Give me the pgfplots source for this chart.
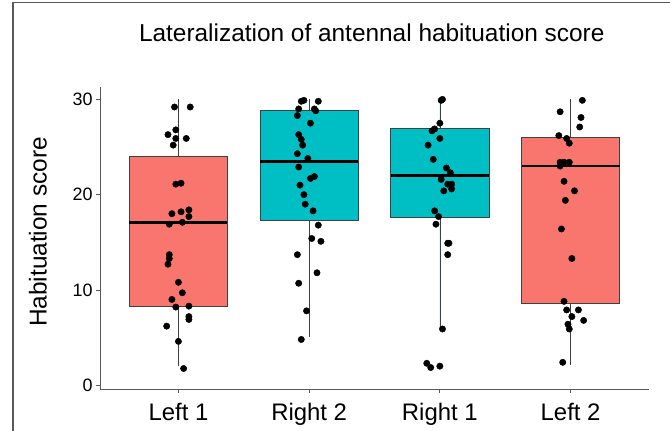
\documentclass[border=0pt]{standalone}
\usepackage{pgfplots}
\pgfplotsset{compat=1.18}
\usepgfplotslibrary{statistics}
\usepackage{fontspec}
\setmainfont{Liberation Sans}
\definecolor{salmon}{HTML}{F8766D}
\definecolor{teal}{HTML}{00BFC4}
\begin{document}
\begin{tikzpicture}
\useasboundingbox (0,0) rectangle (670bp,431bp);
\draw[black!65, line width=1.6bp] (13bp,-10bp) -- (13bp,428.6bp);
\draw[black!65, line width=1.6bp] (12.2bp,428.6bp) -- (690bp,428.6bp);
\begin{axis}[
  at={(100bp,42bp)}, anchor=south west,
  scale only axis, width=549bp, height=302bp,
  xmin=0.4, xmax=4.6, ymin=-0.4, ymax=31.3,
  axis x line*=bottom, axis y line*=left,
  axis line style={-, black!65, line width=0.8bp},
  xtick={1,2,3,4}, xticklabels={Left 1, Right 2, Right 1, Left 2},
  ytick={0,10,20,30},
  tick style={black!65, line width=0.8bp},
  tick align=outside, major tick length=4bp,
  /pgf/number format/assume math mode=true,
  x tick label style={font=\fontsize{24}{28}\selectfont, anchor=base, yshift=-28bp},
  y tick label style={font=\fontsize{18}{20}\selectfont},
  ylabel={Habituation score},
  ylabel style={font=\fontsize{24.5}{28}\selectfont, at={(axis description cs:-0.113,0.52)}, anchor=center},
  title={Lateralization of antennal habituation score},
  title style={font=\fontsize{24.5}{28}\selectfont, at={(axis description cs:0.495,1)}, anchor=base, yshift=40bp},
  boxplot/draw direction=y,
  clip=false,
]
% boxes
\addplot[fill=salmon, draw=black!75, line width=0.7bp,
  boxplot prepared={draw position=1, lower whisker=2.0, lower quartile=8.3, median=17.1, upper quartile=24.0, upper whisker=30.0, box extend=0.75, whisker extend=0, every median/.style={black, line width=2.6bp}}]
  coordinates {};
\addplot[fill=teal, draw=black!75, line width=0.7bp,
  boxplot prepared={draw position=2, lower whisker=5.1, lower quartile=17.3, median=23.5, upper quartile=28.8, upper whisker=30.0, box extend=0.75, whisker extend=0, every median/.style={black, line width=2.6bp}}]
  coordinates {};
\addplot[fill=teal, draw=black!75, line width=0.7bp,
  boxplot prepared={draw position=3, lower whisker=5.9, lower quartile=17.6, median=22.0, upper quartile=27.0, upper whisker=30.0, box extend=0.75, whisker extend=0, every median/.style={black, line width=2.6bp}}]
  coordinates {};
\addplot[fill=salmon, draw=black!75, line width=0.7bp,
  boxplot prepared={draw position=4, lower whisker=2.1, lower quartile=8.6, median=23.0, upper quartile=26.0, upper whisker=30.0, box extend=0.75, whisker extend=0, every median/.style={black, line width=2.6bp}}]
  coordinates {};
% points Left 1
\addplot[only marks, mark=*, mark size=3.2bp, black] coordinates {
(0.97,29.2) (1.09,29.2) (0.98,26.8) (0.92,26.3) (0.98,25.9) (1.06,25.9) (0.96,25.2)
(0.98,21.1) (1.02,21.2) (0.95,18.0) (1.02,18.2) (1.08,18.4) (1.08,17.7) (0.93,16.9)
(1.03,17.1) (0.93,13.7) (0.93,13.3) (0.92,12.7) (1.00,10.8) (1.03,9.7) (0.95,9.0)
(0.98,8.2) (1.08,8.3) (1.08,7.2) (1.08,6.9) (0.91,6.2) (1.00,4.6) (1.04,1.75)
};
% points Right 2
\addplot[only marks, mark=*, mark size=3.2bp, black] coordinates {
(1.94,29.8) (1.96,29.9) (2.07,29.8) (1.92,29.0) (2.04,29.0) (2.05,28.8) (1.91,28.3)
(2.01,27.5) (1.92,26.3) (1.94,25.8) (1.95,25.2) (1.91,24.3) (1.99,23.8) (1.92,22.9)
(2.01,21.7) (2.04,21.9) (1.93,21.0) (1.96,20.0) (1.97,19.0) (2.03,18.3) (2.07,16.8)
(2.02,15.4) (2.09,15.1) (1.91,13.7) (2.06,11.8) (1.92,10.7) (1.98,7.8) (1.94,4.8)
};
% points Right 1
\addplot[only marks, mark=*, mark size=3.2bp, black] coordinates {
(3.01,29.9) (3.02,30.0) (3.00,27.5) (2.96,26.9) (2.94,26.7) (3.00,25.9) (2.91,25.2)
(2.95,23.7) (3.05,22.8) (3.08,22.3) (3.01,21.6) (3.06,21.1) (3.09,21.1) (3.09,20.6)
(3.03,20.4) (2.96,18.3) (2.99,17.7) (2.97,16.9) (3.06,14.9) (3.07,14.9) (3.06,13.7)
(3.02,5.9) (2.90,2.3) (2.93,1.85) (3.00,2.0)
};
% points Left 2
\addplot[only marks, mark=*, mark size=3.2bp, black] coordinates {
(4.09,29.9) (3.92,28.7) (4.08,28.1) (4.07,27.1) (3.91,26.2) (3.97,25.9) (3.99,25.4)
(3.92,23.4) (3.95,23.4) (3.99,23.4) (3.92,23.0) (3.95,21.4) (4.03,20.4) (3.96,19.4)
(3.93,16.4) (4.01,13.3) (3.95,8.8) (3.97,7.9) (4.06,7.9) (4.01,7.2) (4.10,6.8)
(3.98,6.4) (3.99,5.9) (3.94,2.4)
};
\end{axis}
\end{tikzpicture}
\end{document}
